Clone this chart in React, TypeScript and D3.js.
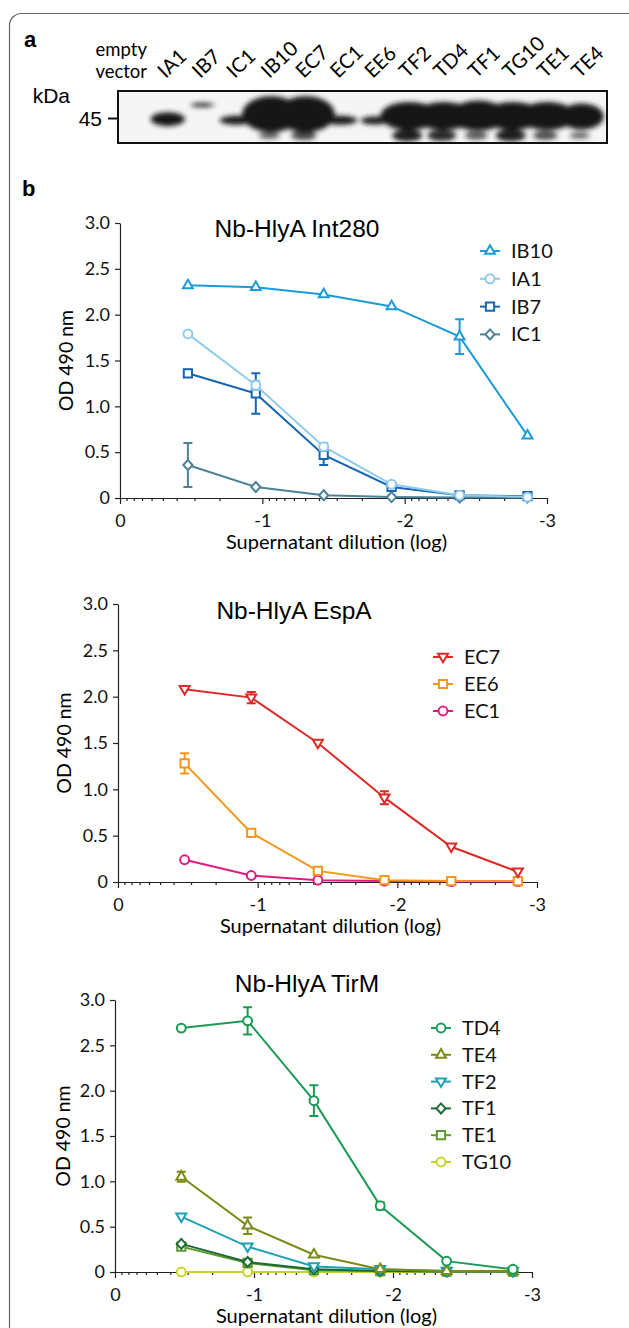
import { useEffect, useRef } from 'react'
import * as d3 from 'd3'

// dilution steps: 3-fold serial dilutions, log10
const dilutions = [-0.477, -0.954, -1.431, -1.908, -2.386, -2.863]

// panel a: lanes of the western blot
const lanes = ['empty\nvector', 'IA1', 'IB7', 'IC1', 'IB10', 'EC7', 'EC1', 'EE6', 'TF2', 'TD4', 'TF1', 'TG10', 'TE1', 'TE4']
// band half sizes per lane (main ~45 kDa band, faint upper band, lower degradation band)
const mainHalfW = [0, 17, 0, 17, 29, 29, 17, 14, 29, 29, 29, 29, 28, 22]
const mainHalfH = [0, 7, 0, 4.5, 18, 18, 4.5, 4, 14, 14, 15, 14, 14, 13]
const upperBand = [0, 0, 1, 0, 0, 0, 0, 0, 0, 0, 0, 0, 0, 0]
const lowerBand = [0, 0, 0, 0, 0.35, 0.65, 0, 0, 1, 0.9, 0.5, 1, 0.6, 0.3]

// panel b, Int280
const ib10 = [2.32, 2.3, 2.22, 2.09, 1.76, 0.68]
const ib10Err = [0.02, 0.02, 0.02, 0.02, 0.19, 0.02]
const ia1 = [1.79, 1.23, 0.56, 0.15, 0.03, 0.01]
const ia1Err = [0.02, 0.05, 0.04, 0.02, 0.01, 0.01]
const ib7 = [1.36, 1.14, 0.47, 0.12, 0.03, 0.02]
const ib7Err = [0.04, 0.22, 0.11, 0.02, 0.01, 0.01]
const ic1 = [0.36, 0.12, 0.03, 0.01, 0.005, 0.005]
const ic1Err = [0.24, 0.01, 0.01, 0.01, 0.005, 0.005]

// EspA
const ec7 = [2.08, 1.99, 1.5, 0.91, 0.38, 0.11]
const ec7Err = [0.02, 0.06, 0.02, 0.07, 0.02, 0.02]
const ee6 = [1.28, 0.53, 0.12, 0.02, 0.01, 0.01]
const ee6Err = [0.11, 0.02, 0.02, 0.01, 0.01, 0.01]
const ec1 = [0.24, 0.07, 0.02, 0.01, 0.005, 0.005]
const ec1Err = [0.01, 0.01, 0.01, 0.005, 0.005, 0.005]

// TirM
const td4 = [2.69, 2.77, 1.89, 0.73, 0.12, 0.03]
const td4Err = [0.02, 0.15, 0.17, 0.04, 0.01, 0.01]
const te4 = [1.05, 0.51, 0.19, 0.03, 0.01, 0.01]
const te4Err = [0.055, 0.09, 0.02, 0.01, 0.005, 0.005]
const tf2 = [0.61, 0.28, 0.06, 0.03, 0.01, 0.01]
const tf2Err = [0.01, 0.01, 0.01, 0.005, 0.005, 0.005]
const tf1 = [0.31, 0.11, 0.03, 0.01, 0.005, 0.005]
const tf1Err = [0.01, 0.01, 0.005, 0.005, 0.005, 0.005]
const te1 = [0.28, 0.1, 0.02, 0.01, 0.005, 0.005]
const te1Err = [0.01, 0.01, 0.005, 0.005, 0.005, 0.005]
const tg10 = [0, 0, 0, 0, 0, 0]
const tg10Err = [0, 0, 0, 0, 0, 0]

const yTicks = [0, 0.5, 1, 1.5, 2, 2.5, 3]
const xTicks = [0, -1, -2, -3]

type Shape = 'triangle' | 'triangleDown' | 'circle' | 'square' | 'diamond'

interface Series {
  name: string
  values: number[]
  errors: number[]
  color: string
  shape: Shape
}

interface ChartSpec {
  title: string
  titleX: number
  titleY: number
  left: number
  top: number
  bottom: number
  width: number
  legendX: number
  legendY: number
  legendStep: number
  yLabelX: number
  series: Series[]
}

const charts: ChartSpec[] = [
  {
    title: 'Nb-HlyA Int280', titleX: 297, titleY: 237,
    left: 120, top: 223, bottom: 498, width: 427,
    legendX: 490, legendY: 251, legendStep: 27.8, yLabelX: 73,
    series: [
      { name: 'IB10', values: ib10, errors: ib10Err, color: '#1b9bd7', shape: 'triangle' },
      { name: 'IA1', values: ia1, errors: ia1Err, color: '#8fcbea', shape: 'circle' },
      { name: 'IB7', values: ib7, errors: ib7Err, color: '#1666b1', shape: 'square' },
      { name: 'IC1', values: ic1, errors: ic1Err, color: '#4d8298', shape: 'diamond' },
    ],
  },
  {
    title: 'Nb-HlyA EspA', titleX: 294, titleY: 619,
    left: 118, top: 604, bottom: 882, width: 419,
    legendX: 443, legendY: 657, legendStep: 27, yLabelX: 71,
    series: [
      { name: 'EC7', values: ec7, errors: ec7Err, color: '#dc2a26', shape: 'triangleDown' },
      { name: 'EE6', values: ee6, errors: ee6Err, color: '#f3961c', shape: 'square' },
      { name: 'EC1', values: ec1, errors: ec1Err, color: '#e01a80', shape: 'circle' },
    ],
  },
  {
    title: 'Nb-HlyA TirM', titleX: 307, titleY: 992,
    left: 115, top: 1000, bottom: 1272, width: 417,
    legendX: 441, legendY: 1028, legendStep: 26.8, yLabelX: 70,
    series: [
      { name: 'TD4', values: td4, errors: td4Err, color: '#1a9b55', shape: 'circle' },
      { name: 'TE4', values: te4, errors: te4Err, color: '#7c8a16', shape: 'triangle' },
      { name: 'TF2', values: tf2, errors: tf2Err, color: '#1ca2b4', shape: 'triangleDown' },
      { name: 'TF1', values: tf1, errors: tf1Err, color: '#1d6a35', shape: 'diamond' },
      { name: 'TE1', values: te1, errors: te1Err, color: '#5b9a30', shape: 'square' },
      { name: 'TG10', values: tg10, errors: tg10Err, color: '#c6d42a', shape: 'circle' },
    ],
  },
]

const sansFont = 'Lato, "Open Sans", sans-serif'
const titleFont = '"Liberation Sans", Arial, sans-serif'

function markerPath(shape: Shape) {
  switch (shape) {
    case 'triangle':
      return d3.symbol(d3.symbolTriangle, 42)()
    case 'triangleDown':
      return 'M-5,-3.2L5,-3.2L0,5.3Z'
    case 'circle':
      return d3.symbol(d3.symbolCircle, 62)()
    case 'square':
      return d3.symbol(d3.symbolSquare, 68)()
    case 'diamond':
      return 'M0,-5L4.6,0L0,5L-4.6,0Z'
  }
}

export default function App() {
  const svgRef = useRef<SVGSVGElement>(null)

  useEffect(() => {
    if (!svgRef.current) return
    const svg = d3.select(svgRef.current)
    svg.selectAll('*').remove()

    // panel frame
    svg.append('rect')
      .attr('x', 9.5).attr('y', 13.5)
      .attr('width', 660).attr('height', 1360)
      .attr('rx', 12)
      .style('fill', 'none')
      .style('stroke', '#666')
      .style('stroke-width', '1.2px')

    svg.append('text').attr('x', 24).attr('y', 47)
      .style('font-family', titleFont).style('font-weight', 'bold').style('font-size', '22px')
      .text('a')
    svg.append('text').attr('x', 22).attr('y', 196)
      .style('font-family', titleFont).style('font-weight', 'bold').style('font-size', '22px')
      .text('b')

    // western blot
    const blot = { x: 118, y: 91, w: 489, h: 52 }
    const lane = d3.scaleBand<number>()
      .domain(d3.range(lanes.length))
      .range([116, 599])

    const defs = svg.append('defs')
    defs.append('filter').attr('id', 'blur')
      .attr('x', '-30%').attr('y', '-50%').attr('width', '160%').attr('height', '200%')
      .append('feGaussianBlur').attr('stdDeviation', 2.8)
    defs.append('clipPath').attr('id', 'blotClip')
      .append('rect').attr('x', blot.x).attr('y', blot.y).attr('width', blot.w).attr('height', blot.h)

    svg.append('rect')
      .attr('x', blot.x).attr('y', blot.y).attr('width', blot.w).attr('height', blot.h)
      .style('fill', '#f5f5f5')

    const bands = svg.append('g').attr('clip-path', 'url(#blotClip)')
      .append('g').attr('filter', 'url(#blur)')

    lanes.forEach((_, i) => {
      const cx = lane(i)! + lane.bandwidth() / 2
      if (lowerBand[i] > 0) {
        const s = lowerBand[i]
        bands.append('ellipse')
          .attr('cx', cx - 2).attr('cy', 135.5)
          .attr('rx', 8 + s * 7).attr('ry', 2 + s * 4)
          .style('fill', '#1e1e1e')
          .style('opacity', 0.5 + s * 0.5)
      }
      if (mainHalfH[i] > 0) {
        const h = mainHalfH[i]
        bands.append('ellipse')
          .attr('cx', cx).attr('cy', 120.5 - (h - 4) * 0.45)
          .attr('rx', mainHalfW[i]).attr('ry', h)
          .style('fill', '#151515')
      }
      if (upperBand[i] > 0) {
        bands.append('ellipse')
          .attr('cx', cx).attr('cy', 105)
          .attr('rx', 12).attr('ry', 2.2)
          .style('fill', '#2a2a2a')
      }
    })

    svg.append('rect')
      .attr('x', blot.x).attr('y', blot.y).attr('width', blot.w).attr('height', blot.h)
      .style('fill', 'none').style('stroke', '#111').style('stroke-width', '2px')

    svg.append('text').attr('x', 70).attr('y', 103).attr('text-anchor', 'end')
      .style('font-family', titleFont).style('font-size', '21px').text('kDa')
    svg.append('text').attr('x', 102).attr('y', 126).attr('text-anchor', 'end')
      .style('font-family', titleFont).style('font-size', '21px').text('45')
    svg.append('line').attr('x1', 108).attr('x2', 117).attr('y1', 118.5).attr('y2', 118.5)
      .style('stroke', '#111').style('stroke-width', '2px')

    // lane labels
    lanes.forEach((name, i) => {
      const cx = lane(i)! + lane.bandwidth() / 2
      if (name.includes('\n')) {
        name.split('\n').forEach((p, j) => {
          svg.append('text')
            .attr('x', cx - 12).attr('y', 56 + j * 22)
            .attr('text-anchor', 'middle')
            .style('font-family', sansFont).style('font-size', '18.5px')
            .text(p)
        })
      } else {
        svg.append('text')
          .attr('transform', `translate(${cx - 2},${79}) rotate(-44)`)
          .style('font-family', sansFont).style('font-size', '20px')
          .text(name)
      }
    })

    // line charts
    charts.forEach(spec => {
      const g = svg.append('g')
      const x = d3.scaleLinear().domain([0, -3]).range([spec.left, spec.left + spec.width])
      const y = d3.scaleLinear().domain([0, 3]).range([spec.bottom, spec.top])

      const yAxis = d3.axisLeft(y)
        .tickValues(yTicks)
        .tickSize(5)
        .tickSizeOuter(0)
        .tickPadding(5)
        .tickFormat(d => (+d === 0 ? '0' : d3.format('.1f')(+d)))
      const ya = g.append('g').attr('transform', `translate(${spec.left},0)`).call(yAxis)
      ya.selectAll('text').style('font-family', sansFont).style('font-size', '18px').style('fill', '#111')

      const minor: number[] = []
      for (let d = 1; d <= 3; d++) {
        for (let k = 2; k <= 9; k++) minor.push(-d + Math.log10(k))
      }
      const xMinor = d3.axisBottom(x).tickValues(minor).tickSize(3).tickSizeOuter(0).tickFormat(() => '')
      g.append('g').attr('transform', `translate(0,${spec.bottom})`).call(xMinor)
      const xAxis = d3.axisBottom(x).tickValues(xTicks).tickSize(6).tickSizeOuter(0).tickPadding(0)
        .tickFormat(d => d3.format('d')(+d).replace('−', '-'))
      const xa = g.append('g').attr('transform', `translate(0,${spec.bottom})`).call(xAxis)
      xa.selectAll('text')
        .attr('dy', null).attr('y', 28.5)
        .style('font-family', sansFont).style('font-size', '18px').style('fill', '#111')
      g.selectAll('.domain, .tick line').style('stroke', '#222').style('stroke-width', '1.2px')

      g.append('text')
        .attr('x', spec.left + spec.width / 2 + 3).attr('y', spec.bottom + 50.5)
        .attr('text-anchor', 'middle')
        .style('font-family', sansFont).style('font-size', '20px')
        .text('Supernatant dilution (log)')
      g.append('text')
        .attr('transform', `translate(${spec.yLabelX},${(spec.top + spec.bottom) / 2}) rotate(-90)`)
        .attr('text-anchor', 'middle')
        .style('font-family', sansFont).style('font-size', '19.5px')
        .text('OD 490 nm')
      g.append('text')
        .attr('x', spec.titleX).attr('y', spec.titleY)
        .attr('text-anchor', 'middle')
        .style('font-family', titleFont).style('font-size', '24.5px')
        .text(spec.title)

      const line = d3.line<number>()
        .x((_, i) => x(dilutions[i]))
        .y(d => y(d))

      // draw in reverse so the first series sits on top
      spec.series.slice().reverse().forEach(s => {
        const sg = g.append('g')
        sg.append('path')
          .attr('d', line(s.values))
          .style('fill', 'none').style('stroke', s.color).style('stroke-width', '2px')
        s.values.forEach((v, i) => {
          const e = s.errors[i]
          if (e < 0.04) return
          const cx = x(dilutions[i])
          sg.append('path')
            .attr('d', `M${cx - 4.5},${y(v + e)}H${cx + 4.5}M${cx},${y(v + e)}V${y(v - e)}M${cx - 4.5},${y(v - e)}H${cx + 4.5}`)
            .style('fill', 'none').style('stroke', s.color).style('stroke-width', '2px')
        })
        sg.selectAll('.pt').data(s.values).enter().append('path')
          .attr('transform', (d, i) => `translate(${x(dilutions[i])},${y(d)})`)
          .attr('d', markerPath(s.shape))
          .style('fill', 'white').style('stroke', s.color).style('stroke-width', '2px')
      })

      // legend
      spec.series.forEach((s, i) => {
        const ly = spec.legendY + i * spec.legendStep
        g.append('line')
          .attr('x1', spec.legendX - 10).attr('x2', spec.legendX + 10)
          .attr('y1', ly).attr('y2', ly)
          .style('stroke', s.color).style('stroke-width', '2px')
        g.append('path')
          .attr('transform', `translate(${spec.legendX},${ly})`)
          .attr('d', markerPath(s.shape))
          .style('fill', 'white').style('stroke', s.color).style('stroke-width', '2px')
        g.append('text')
          .attr('x', spec.legendX + 21).attr('y', ly + 7)
          .style('font-family', sansFont).style('font-size', '20px')
          .style('fill', '#111')
          .text(s.name)
      })
    })
  }, [])

  return (
    <div style={{ position: 'absolute', left: 0, top: 0 }}>
      <svg ref={svgRef} width={629} height={1328} style={{ display: 'block', background: 'white' }} />
    </div>
  )
}
